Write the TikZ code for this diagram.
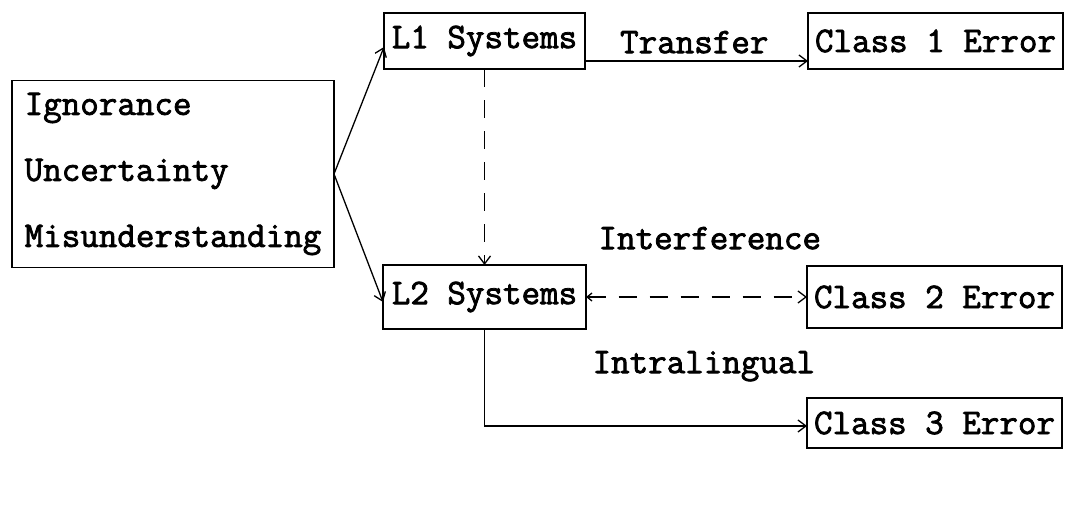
\documentclass[tikz,border=0pt]{standalone}
\usepackage{fontspec}
\setmonofont{Latin Modern Mono}[AutoFakeBold=2.2]
\usetikzlibrary{positioning,arrows.meta}

\begin{document}
\begin{tikzpicture}[
    x=1pt, y=-1pt,
    font=\ttfamily\bfseries\fontsize{36}{44}\selectfont,
 sysbox/.style = {
        draw, rectangle, line width=1.6pt, inner sep=4pt,
        outer sep=0pt},
 errbox/.style = {
        draw, rectangle, line width=1.6pt, inner sep=4pt,
        minimum width=255pt, outer sep=0pt},
    lbl/.style = {inner sep=2pt},
  arrow/.style = {line width=1.3pt,-{Straight Barb[length=8pt,width=12pt]}},
twoways/.style = {line width=1.3pt,
        {Straight Barb[length=5pt,width=8pt]}-{Straight Barb[length=8pt,width=12pt]}},
dashline/.style = {dash pattern=on 18pt off 13pt}
                    ]
\useasboundingbox (0,0) rectangle (1069,506);
% the causes on the left
\node (causes) [draw, line width=1.6pt, align=left, outer sep=0pt,
                minimum width=322pt, minimum height=187pt,
                font=\ttfamily\bfseries\fontsize{36}{66}\selectfont]
                at (173,174)   {Ignorance\\
                                Uncertainty\\
                                Misunderstanding};
% the two systems
\node (l1)  [sysbox, minimum width=201pt, minimum height=56pt]
                at (484.5,41)  {L1 Systems};
\node (l2)  [sysbox, minimum width=203pt, minimum height=64pt,
             below=196pt of l1]    {L2 Systems};
% the errors on the right
\node (c1)  [errbox, minimum height=56pt, right=223pt of l1]
                                   {Class 1 Error};
\node (c2)  [errbox, minimum height=62pt, right=221pt of l2]
                                   {Class 2 Error};
\node (c3)  [errbox, minimum height=50pt, below=70pt of c2]
                                   {Class 3 Error};
% connectors
\draw[arrow] (causes.east) -- ([yshift=-6pt] l1.west);
\draw[arrow] (causes.east) -- ([yshift=-5pt] l2.west);
\draw[arrow] ([yshift=-20pt] l1.east) coordinate (t)
                -- (t -| c1.west) node[lbl, pos=0.49, above=5pt] {Transfer};
\draw[arrow, dashline] (l1.south) -- (l2.north);
\draw[twoways, dashline] (l2.east) -- (l2.east -| c2.west)
                node[lbl, pos=0.56, above=45pt] {Interference};
\draw[arrow] (l2.south) |- ([yshift=-3pt] c3.west)
                node[lbl, pos=0.84, above=42pt] {Intralingual};
\end{tikzpicture}
\end{document}
